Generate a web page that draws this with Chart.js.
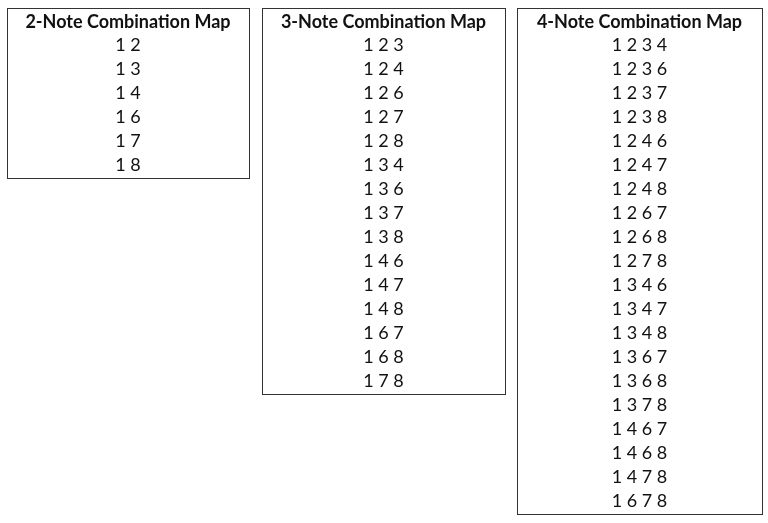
<!DOCTYPE html>
<html>
<head>
<meta charset="utf-8">
<script src="https://cdn.jsdelivr.net/npm/chart.js@4"></script>
<style>
  body { margin: 0; background: #fff; }
  #wrap { width: 768px; height: 523px; }
</style>
</head>
<body>
<div id="wrap"><canvas id="c"></canvas></div>
<script>
const titles = ["2-Note Combination Map", "3-Note Combination Map", "4-Note Combination Map"];
const combos2 = ["12", "13", "14", "16", "17", "18"];
const combos3 = ["123", "124", "126", "127", "128", "134", "136", "137", "138", "146", "147", "148", "167", "168", "178"];
const combos4 = ["1234", "1236", "1237", "1238", "1246", "1247", "1248", "1267", "1268", "1278",
                 "1346", "1347", "1348", "1367", "1368", "1378", "1467", "1468", "1478", "1678"];
const lists = [combos2, combos3, combos4];

// box frames in chart units (x: 0-768, y: 0-523)
const boxes = [[7, 249], [262, 505], [517, 762]];
const boxTop = 8, rowStart = 45, rowStep = 24;

const tablePlugin = {
  id: "tables",
  afterDraw(chart) {
    const ctx = chart.ctx, xs = chart.scales.x, ys = chart.scales.y;
    ctx.save();
    lists.forEach((list, i) => {
      const x0 = xs.getPixelForValue(boxes[i][0]);
      const x1 = xs.getPixelForValue(boxes[i][1]);
      const y0 = ys.getPixelForValue(boxTop);
      const y1 = ys.getPixelForValue(rowStart + rowStep * (list.length - 1) + 13);
      const cx = (x0 + x1) / 2;
      ctx.strokeStyle = "#333";
      ctx.lineWidth = 1;
      ctx.strokeRect(Math.round(x0) + 0.5, Math.round(y0) + 0.5, x1 - x0, y1 - y0);
      ctx.fillStyle = "#111";
      ctx.textAlign = "center";
      ctx.textBaseline = "middle";
      ctx.font = "bold 18px Lato";
      ctx.fillText(titles[i], cx, ys.getPixelForValue(22));
      ctx.font = "18px Lato";
      list.forEach((c, j) => {
        ctx.fillText(c.split("").join(" "), cx, ys.getPixelForValue(rowStart + rowStep * j));
      });
    });
    ctx.restore();
  }
};

new Chart(document.getElementById("c"), {
  type: "scatter",
  data: { datasets: [{ data: [] }] },
  options: {
    responsive: true,
    maintainAspectRatio: false,
    animation: false,
    layout: { padding: 0 },
    plugins: { legend: { display: false }, tooltip: { enabled: false } },
    scales: {
      x: { type: "linear", min: 0, max: 768, display: false },
      y: { type: "linear", min: 0, max: 523, reverse: true, display: false }
    }
  },
  plugins: [tablePlugin]
});
</script>
</body>
</html>
